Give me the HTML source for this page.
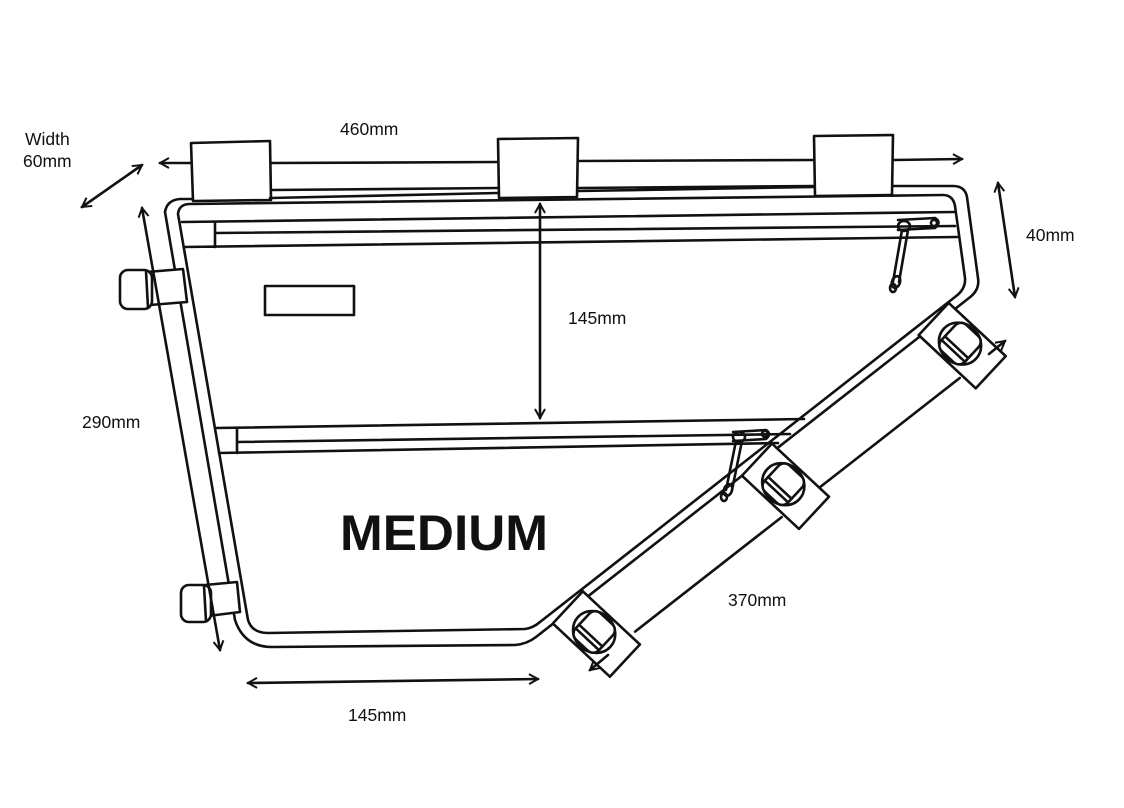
<!DOCTYPE html>
<html><head><meta charset="utf-8"><style>
html,body{margin:0;padding:0;background:#fff;}
svg{display:block;}
text{font-family:"Liberation Sans",sans-serif;fill:#111;}
</style></head><body>
<svg width="1124" height="808" viewBox="0 0 1124 808" xmlns="http://www.w3.org/2000/svg">
<defs>
<marker id="ah" viewBox="0 0 12 12" refX="10" refY="6" markerWidth="12" markerHeight="12" markerUnits="userSpaceOnUse" orient="auto-start-reverse">
<path d="M1,1 L10,6 L1,11" fill="none" stroke="#111" stroke-width="2"/>
</marker>
</defs>
<g fill="none" stroke="#111" stroke-width="2.6" stroke-linejoin="round" stroke-linecap="round">
<line x1="272" y1="163" x2="498" y2="162"/>
<line x1="578" y1="161" x2="814" y2="160"/>
<line x1="894" y1="160" x2="962" y2="159" marker-end="url(#ah)"/>
<line x1="190" y1="163" x2="160" y2="163" marker-end="url(#ah)"/>
<line x1="272" y1="190" x2="498" y2="188"/>
<line x1="578" y1="188" x2="814" y2="186"/>
<path d="M191,143 L270,141 L271,200 L193,201 Z" fill="#fff"/>
<path d="M498,139 L578,138 L577,197 L499,198 Z" fill="#fff"/>
<path d="M814,136 L893,135 L892,195 L815,196 Z" fill="#fff"/>
<path d="M235,620 Q244,647 272,647 L515,645 Q527,644 536,637 L969,298 Q980,290 978,278 L967,197 Q965,186 953,186 L893,186 M814,187 L578,191 M498,193 L270,198 M192,199 L180,199 Q167,200 165,212 L235,620"/>
<path d="M248,620 Q252,633 268,633 L525,629 Q533,628 540,622 L955,297 Q966,289 965,278 L955,206 Q953,195 943,195 L190,204 Q179,204 178,214 L248,620"/>
<path d="M182,222 L955,212 M215,233 L955,226 M184,247 L957,237 M215,222 L215,247"/>
<path d="M216,428 L804,419 M237,442 L790,434 M219,453 L778,443 M237,428 L237,453"/>
<rect x="265" y="286" width="89" height="29"/>
<path d="M898,220 L935,218 Q942,222 935,228 L898,230"/>
<circle cx="934" cy="223" r="3"/>
<ellipse cx="904" cy="226" rx="6" ry="5"/>
<path d="M902,230 L893,282 M908,230 L899,282"/>
<ellipse cx="896" cy="282" rx="6" ry="4" transform="rotate(-70 896 282)"/>
<ellipse cx="893" cy="288" rx="3" ry="4"/>
<path d="M733,432 L766,430 Q772,434 766,439 L733,441"/>
<circle cx="765" cy="434" r="3"/>
<ellipse cx="739" cy="437" rx="6" ry="5"/>
<path d="M736,441 L726,490 M742,441 L732,490"/>
<ellipse cx="728" cy="490" rx="6" ry="4" transform="rotate(-70 728 490)"/>
<ellipse cx="724" cy="497" rx="3" ry="4"/>
<g transform="translate(545,617) rotate(-38)">
<line x1="62" y1="67" x2="248" y2="67"/>
<line x1="292" y1="67" x2="474" y2="67"/>
<g transform="rotate(-9 30 45)">
<path d="M8,6 L52,6 L52,84 L8,84 Z" fill="#fff"/>
<ellipse cx="30" cy="42" rx="20" ry="22"/>
<rect x="12" y="26" width="36" height="32" rx="8" fill="#fff"/>
<line x1="20" y1="26" x2="20" y2="58"/><line x1="25" y1="26" x2="25" y2="58"/>
</g>
<g transform="rotate(-9 270 45)">
<path d="M248,6 L292,6 L292,84 L248,84 Z" fill="#fff"/>
<ellipse cx="270" cy="42" rx="20" ry="22"/>
<rect x="252" y="26" width="36" height="32" rx="8" fill="#fff"/>
<line x1="260" y1="26" x2="260" y2="58"/><line x1="265" y1="26" x2="265" y2="58"/>
</g>
<g transform="rotate(-9 496 44)">
<path d="M474,4 L518,4 L518,82 L474,82 Z" fill="#fff"/>
<ellipse cx="496" cy="40" rx="20" ry="22"/>
<rect x="478" y="24" width="36" height="32" rx="8" fill="#fff"/>
<line x1="486" y1="24" x2="486" y2="56"/><line x1="491" y1="24" x2="491" y2="56"/>
</g>
</g>
<path d="M147,272 L183,269 L187,302 L150,305 Z" fill="#fff"/>
<rect x="120" y="270" width="32" height="39" rx="8" fill="#fff"/>
<line x1="146" y1="271" x2="148" y2="308"/>
<path d="M205,585 L237,582 L240,612 L208,616 Z" fill="#fff"/>
<rect x="181" y="585" width="30" height="37" rx="8" fill="#fff"/>
<line x1="204" y1="586" x2="206" y2="621"/>
<line x1="82" y1="207" x2="142" y2="165" marker-start="url(#ah)" marker-end="url(#ah)"/>
<line x1="998" y1="183" x2="1015" y2="297" marker-start="url(#ah)" marker-end="url(#ah)"/>
<line x1="540" y1="204" x2="540" y2="418" marker-start="url(#ah)" marker-end="url(#ah)"/>
<line x1="142" y1="208" x2="220" y2="650" marker-start="url(#ah)" marker-end="url(#ah)"/>
<line x1="248" y1="683" x2="538" y2="679" marker-start="url(#ah)" marker-end="url(#ah)"/>
<line x1="608" y1="655" x2="590" y2="670" marker-end="url(#ah)"/>
<line x1="989" y1="354" x2="1005" y2="341" marker-end="url(#ah)"/>
</g>
<g font-size="17.5">
<text x="25" y="145">Width</text>
<text x="23" y="167">60mm</text>
<text x="340" y="135">460mm</text>
<text x="1026" y="241">40mm</text>
<text x="568" y="324">145mm</text>
<text x="82" y="428">290mm</text>
<text x="728" y="606">370mm</text>
<text x="348" y="721">145mm</text>
</g>
<text x="340" y="550" font-size="50" font-weight="bold" textLength="208" lengthAdjust="spacingAndGlyphs">MEDIUM</text>
</svg>
</body></html>
